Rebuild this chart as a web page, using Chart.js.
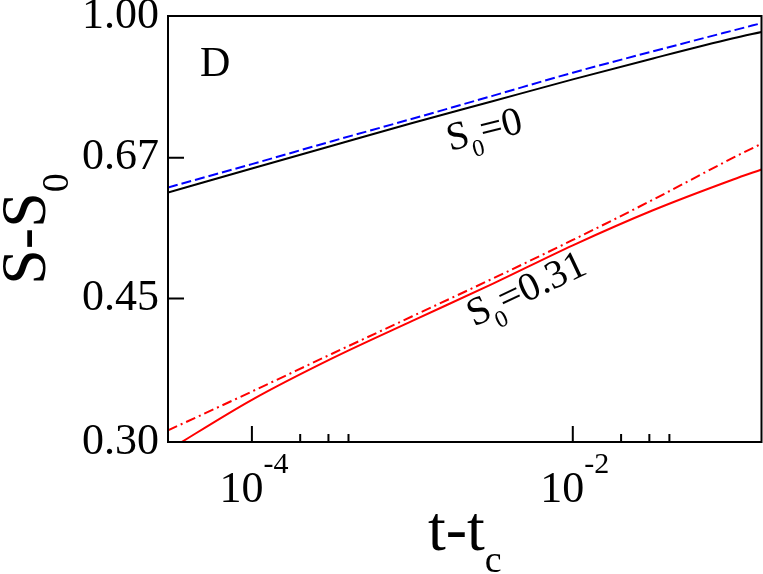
<!DOCTYPE html>
<html>
<head>
<meta charset="utf-8">
<script src="https://cdn.jsdelivr.net/npm/chart.js@4"></script>
<style>
  html, body { margin: 0; padding: 0; background: #fff; }
  canvas { display: block; }
</style>
</head>
<body>
<canvas id="chart" width="763" height="574"></canvas>
<script>
// t - t_c sample positions (log axis)
const tValues = [3e-5, 1e-4, 3.16e-4, 1e-3, 3.16e-3, 1e-2, 3.16e-2, 0.1, 0.15];

// S0 = 0 pair
const blackSolid = [0.607, 0.650, 0.693, 0.739, 0.786, 0.836, 0.887, 0.939, 0.956];
const blueDashed = [0.616, 0.658, 0.702, 0.748, 0.798, 0.852, 0.905, 0.960, 0.980];

// S0 = 0.31 pair
const redSolid   = [0.293, 0.338, 0.380, 0.4225, 0.469, 0.523, 0.5775, 0.630, 0.648];
const redDashDot = [0.310, 0.346, 0.385, 0.428, 0.476, 0.531, 0.595, 0.670, 0.697];

const yTicks = [0.30, 0.45, 0.67, 1.00];
const xMajor = [1e-4, 1e-2];
const xMinor = [2e-4, 3e-4, 4e-4, 2e-2, 3e-2, 4e-2];
const xLabels = ['-4', '-2'];

const SERIF = '"Liberation Serif", "Times New Roman", serif';

const toPoints = ys => ys.map((v, i) => ({ x: tValues[i], y: v }));

// draw text made of pieces (for sub/superscripts), optionally rotated
function drawPieces(ctx, pieces, x, y, angle, align) {
  ctx.save();
  ctx.translate(x, y);
  ctx.rotate(angle || 0);
  ctx.fillStyle = '#000';
  ctx.textBaseline = 'alphabetic';
  ctx.textAlign = 'left';
  let total = 0;
  pieces.forEach(p => {
    ctx.font = p.size + 'px ' + SERIF;
    p.w = ctx.measureText(p.t).width;
    total += p.w;
  });
  let cx = align === 'center' ? -total / 2 : 0;
  pieces.forEach(p => {
    ctx.font = p.size + 'px ' + SERIF;
    ctx.fillText(p.t, cx, p.dy || 0);
    cx += p.w;
  });
  ctx.restore();
}

const frame = {
  id: 'frame',
  afterDraw(chart) {
    const { ctx, chartArea: a, scales: { x, y } } = chart;
    ctx.save();
    ctx.strokeStyle = '#000';
    ctx.lineWidth = 2;
    ctx.beginPath();
    xMajor.forEach(v => {
      const px = x.getPixelForValue(v);
      ctx.moveTo(px, a.bottom); ctx.lineTo(px, a.bottom - 16);
    });
    xMinor.forEach(v => {
      const px = x.getPixelForValue(v);
      ctx.moveTo(px, a.bottom); ctx.lineTo(px, a.bottom - 8);
    });
    yTicks.forEach(v => {
      const py = y.getPixelForValue(v);
      ctx.moveTo(a.left, py); ctx.lineTo(a.left + 16, py);
    });
    ctx.stroke();
    ctx.strokeRect(a.left, a.top, a.right - a.left, a.bottom - a.top);
    ctx.restore();

    // x tick labels 10^n
    xMajor.forEach((v, i) => {
      const px = x.getPixelForValue(v);
      drawPieces(ctx, [{ t: '10', size: 44 }, { t: xLabels[i], size: 30, dy: -29 }], px + 2, 502, 0, 'center');
    });

    // axis titles
    drawPieces(ctx, [{ t: 't-t', size: 64 }, { t: 'c', size: 38, dy: 22 }], (a.left + a.right) / 2, 550, 0, 'center');
    drawPieces(ctx, [{ t: 'S-S', size: 64 }, { t: '0', size: 38, dy: 23 }], 45, (a.top + a.bottom) / 2, -Math.PI / 2, 'center');

    // annotations
    drawPieces(ctx, [{ t: 'D', size: 42 }], 200, 76, 0);
    drawPieces(ctx, [{ t: 'S', size: 40 }, { t: '0', size: 24, dy: 12 }, { t: '=0', size: 40 }], 450, 151, -0.25);
    drawPieces(ctx, [{ t: 'S', size: 40 }, { t: '0', size: 24, dy: 12 }, { t: '=0.31', size: 40 }], 474, 327, -0.44);
  }
};

new Chart(document.getElementById('chart'), {
  type: 'line',
  data: {
    datasets: [
      { data: toPoints(blackSolid), borderColor: '#000000', borderWidth: 2 },
      { data: toPoints(blueDashed), borderColor: '#0000ff', borderWidth: 2, borderDash: [10, 4] },
      { data: toPoints(redSolid), borderColor: '#ff0000', borderWidth: 2 },
      { data: toPoints(redDashDot), borderColor: '#ff0000', borderWidth: 2, borderDash: [10, 4, 2, 4] }
    ]
  },
  options: {
    responsive: false,
    animation: false,
    devicePixelRatio: 1,
    layout: { padding: { top: 16, right: 1.5, bottom: 0, left: 0 } },
    elements: {
      point: { radius: 0 },
      line: { cubicInterpolationMode: 'monotone', fill: false }
    },
    plugins: { legend: { display: false }, tooltip: { enabled: false } },
    scales: {
      x: {
        type: 'logarithmic',
        min: 3e-5,
        max: 0.15,
        grid: { display: false, drawTicks: false },
        border: { display: false },
        ticks: { display: false },
        afterFit: s => { s.height = 132; s.paddingLeft = 0; s.paddingRight = 0; }
      },
      y: {
        type: 'logarithmic',
        min: 0.30,
        max: 1.00,
        grid: { display: false, drawTicks: false },
        border: { display: false },
        afterBuildTicks: s => { s.ticks = yTicks.map(v => ({ value: v })); },
        ticks: {
          padding: 9,
          color: '#000',
          font: { family: SERIF, size: 44 },
          callback: v => Number(v).toFixed(2)
        },
        afterFit: s => { s.width = 168; s.paddingTop = 0; s.paddingBottom = 0; }
      }
    }
  },
  plugins: [frame]
});
</script>
</body>
</html>
